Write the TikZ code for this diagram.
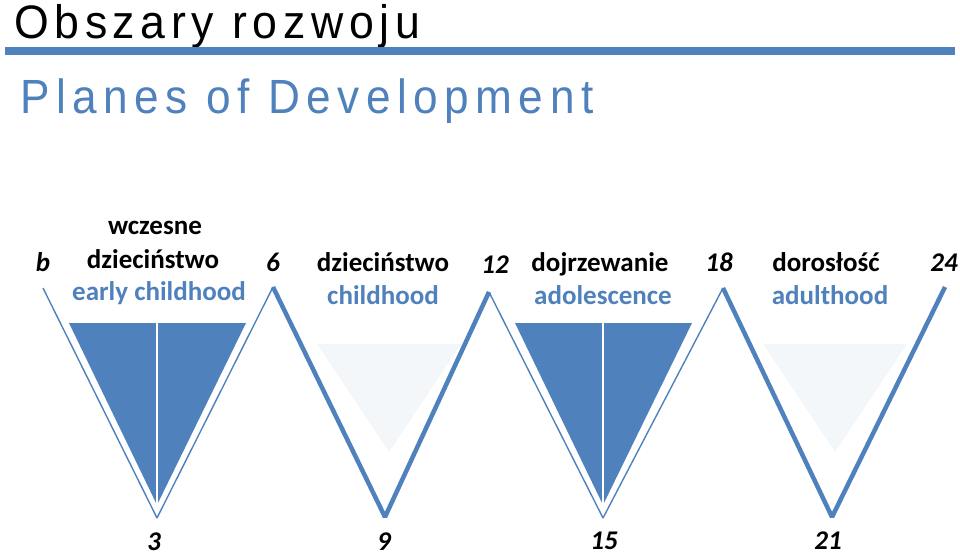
\documentclass[tikz,border=0pt]{standalone}
\usepackage{fontspec}
\setmainfont{Carlito}
\newfontfamily\headfont[FakeStretch=0.95,LetterSpace=12]{Liberation Sans}
\newfontfamily\subheadfont[FakeStretch=0.92,LetterSpace=13.5]{Liberation Sans}
\definecolor{planeblue}{HTML}{4F81BD}
\definecolor{planepale}{HTML}{F4F7FA}

\begin{document}
\begin{tikzpicture}[x=1pt,y=-1pt,
    thinline/.style={draw=planeblue,line width=1.4pt,line join=bevel},
    thickline/.style={draw=planeblue,line width=4.5pt,line join=bevel},
    age/.style={font=\fontsize{27}{27}\selectfont\bfseries\itshape,anchor=base,inner sep=0pt},
    plname/.style={font=\fontsize{27}{27}\selectfont\bfseries,anchor=base,inner sep=0pt},
    enname/.style={plname,text=planeblue}]
  \useasboundingbox (0,0) rectangle (960,554);

  \node[anchor=base west,inner sep=0pt,font=\headfont\fontsize{47}{47}\selectfont] (title) at (14,38) {Obszary rozwoju};
  \fill[planeblue] (5,47) rectangle (955,55);
  \node[anchor=base west,inner sep=0pt,text=planeblue,font=\subheadfont\fontsize{48}{48}\selectfont] (subtitle) at (20,113) {Planes of Development};

  \coordinate (a0) at (43,288);
  \coordinate (a3) at (157,518);
  \coordinate (a6) at (273,287);
  \coordinate (a9) at (385,517);
  \coordinate (a12) at (489,292);
  \coordinate (a15) at (603,518);
  \coordinate (a18) at (723,288);
  \coordinate (a21) at (832,517);
  \coordinate (a24) at (945,287);

  \foreach \mid in {157,603} {
    \fill[planeblue] (\mid-88,323) -- (\mid+89,323) -- (\mid,505) -- cycle;
    \draw[white,line width=2.5pt] (\mid,323) -- (\mid,506);
  }
  \foreach \mid in {389,835}
    \fill[planepale] (\mid-72,344) -- (\mid+72,344) -- (\mid,452) -- cycle;

  \draw[thinline] (a0) -- (a3) -- (a6);
  \draw[thickline] (a6) -- (a9) -- (a12);
  \draw[thinline] (a12) -- (a15) -- (a18);
  \draw[thickline] (a18) -- (a21) -- (a24);

  \foreach \txt/\x/\y in {b/43/271, 6/273/271, 12/495/273, 18/719/271, 24/944/271,
                          3/154/550, 9/384/550, 15/604/549, 21/828/549}
    \node[age] (n\txt) at (\x,\y) {\txt};

  \node[plname] (earlypl) at (155,234) {wczesne};
  \node[plname] (earlypl2) at (153,268) {dzieciństwo};
  \node[enname] (earlyen) at (159,300) {early childhood};
  \node[plname] (childpl) at (383,271) {dzieciństwo};
  \node[enname] (childen) at (383,304) {childhood};
  \node[plname] (adolpl) at (600,271) {dojrzewanie};
  \node[enname] (adolen) at (603,304) {adolescence};
  \node[plname] (adultpl) at (826,271) {dorosłość};
  \node[enname] (adulten) at (830,304) {adulthood};
\end{tikzpicture}
\end{document}
